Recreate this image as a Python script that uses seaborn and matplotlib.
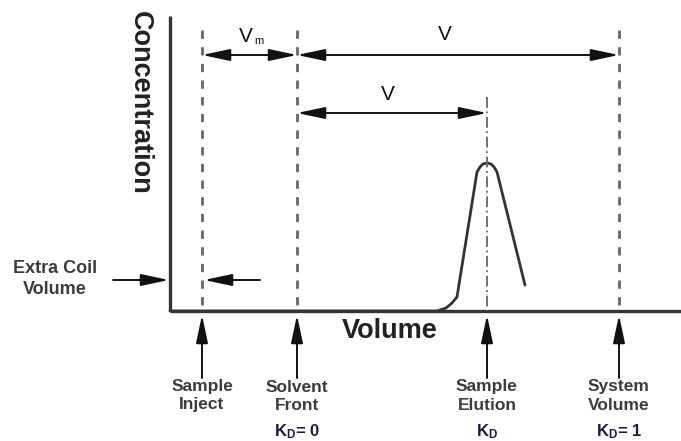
import matplotlib
matplotlib.use("Agg")
import matplotlib.pyplot as plt
import seaborn as sns
import pandas as pd

# ----------------------------
# Data (diagram units = volume on x, signal on y; y grows downward)
# ----------------------------
marker_x = [202, 297, 487, 619]
marker_names = ["Sample\nInject", "Solvent\nFront", "Sample\nElution", "System\nVolume"]
kd_labels = [None, "= 0", "", "= 1"]

peak_x = [170, 437, 446, 452, 457, 477, 480, 483, 487, 491, 494, 497, 525]
peak_y = [311, 311, 308, 303, 297, 172, 167, 164, 163, 164, 167, 172, 285]

AX_LEFT, AX_RIGHT, AX_TOP, AX_BASE = 170, 681, 16, 311

sns.set_style("white")
plt.rcParams["font.family"] = ["Liberation Sans", "DejaVu Sans"]
plt.rcParams["mathtext.default"] = "regular"

fig = plt.figure(figsize=(6.81, 4.41), dpi=100)
ax = fig.add_axes([0, 0, 1, 1])
ax.set_xlim(0, 681)
ax.set_ylim(441, 0)
ax.axis("off")

ink = "#333333"
txt = "#3c3c3c"

# axes lines
ax.plot([AX_LEFT, AX_LEFT], [AX_TOP, AX_BASE], color=ink, lw=2.4, solid_capstyle="butt")
ax.plot([AX_LEFT, AX_RIGHT], [AX_BASE, AX_BASE], color=ink, lw=2.4, solid_capstyle="butt")

# peak
df = pd.DataFrame({"x": peak_x, "y": peak_y})
sns.lineplot(data=df, x="x", y="y", sort=False, estimator=None, color=ink, lw=2.0, ax=ax)
ax.set_xlabel("")
ax.set_ylabel("")

# vertical reference lines
for i, x in enumerate(marker_x):
    if i == 2:
        ax.plot([x, x], [97, AX_BASE], color="#666666", lw=1.3, linestyle=(0, (6, 2, 1, 2)))
    else:
        ax.plot([x, x], [30, AX_BASE], color="#666666", lw=2.0, linestyle=(0, (3, 3)))

head = "head_length=0.85,head_width=0.18"
arrow_kw = dict(arrowstyle="-|>," + head, color="#111111", lw=1.4, mutation_scale=20,
                shrinkA=0, shrinkB=0)
dbl_kw = dict(arrow_kw, arrowstyle="<|-|>," + head)

# span arrows
ax.annotate("", xy=(marker_x[1], 55), xytext=(marker_x[0], 55), arrowprops=dbl_kw)
ax.annotate("", xy=(marker_x[3], 55), xytext=(marker_x[1], 55), arrowprops=dbl_kw)
ax.annotate("", xy=(marker_x[2], 113), xytext=(marker_x[1], 113), arrowprops=dbl_kw)
ax.text(246, 36, "V", ha="center", va="center", fontsize=15, color="#111111")
ax.text(254, 41, "m", ha="left", va="center", fontsize=8, color="#111111")
ax.text(445, 35, "V", ha="center", va="center", fontsize=15, color="#111111")
ax.text(388, 94, "V", ha="center", va="center", fontsize=15, color="#111111")

# extra coil volume
ax.annotate("", xy=(AX_LEFT - 1, 280), xytext=(113, 280), arrowprops=arrow_kw)
ax.annotate("", xy=(marker_x[0] + 2, 280), xytext=(260, 280), arrowprops=arrow_kw)
ax.text(55, 279, "Extra Coil\nVolume", ha="center", va="center", fontsize=13,
        fontweight="bold", color=txt, linespacing=1.25)

# axis titles
ax.text(140, 103, "Concentration", rotation=-90, ha="center", va="center",
        fontsize=19.5, fontweight="bold", color="#222222")
ax.text(390, 331, "Volume", ha="center", va="center", fontsize=19.5,
        fontweight="bold", color="#222222")

# bottom markers
for x, name, kd in zip(marker_x, marker_names, kd_labels):
    ax.annotate("", xy=(x, 315), xytext=(x, 378), arrowprops=arrow_kw)
    ax.text(x, 396, name, ha="center", va="center", fontsize=12.5,
            fontweight="bold", color=txt, linespacing=1.25)
    if kd is not None:
        ax.text(x, 432, r"K$_{D}$" + kd, ha="center", va="center", fontsize=12,
                fontweight="bold", color="#1c1c40")

fig.savefig("out.png", dpi=100)
